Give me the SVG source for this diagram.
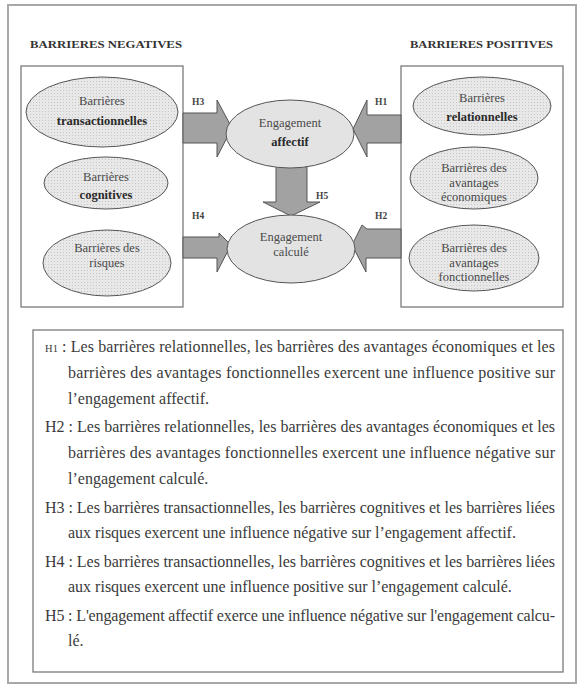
<svg xmlns="http://www.w3.org/2000/svg" width="580" height="686" viewBox="0 0 580 686">
<defs>
<pattern id="dots" width="3" height="3" patternUnits="userSpaceOnUse"><rect width="3" height="3" fill="#e8e8e8"/><rect width="1" height="1" fill="#c6c6c6"/></pattern>
<style>
.frame{fill:#fff;stroke:#a8a8a8;stroke-width:2}
.box{fill:#fff;stroke:#7a7a7a;stroke-width:1.3}
.side{fill:url(#dots);stroke:#555;stroke-width:1}
.mid{fill:#e3e3e3;stroke:#555;stroke-width:1}
.arr{fill:#a2a2a2;stroke:#555;stroke-width:1;stroke-linejoin:miter}
.t{font-family:"Liberation Serif","Times New Roman",serif;font-size:12.5px;fill:#4a4a4a;text-anchor:middle}
.b{font-weight:bold;fill:#2a2a2a}
.h{font-family:"Liberation Serif","Times New Roman",serif;font-size:11px;font-weight:bold;fill:#333}
.lab{font-family:"Liberation Serif","Times New Roman",serif;font-size:9.5px;font-weight:bold;fill:#444}
.p{font-family:"Liberation Serif","Times New Roman",serif;font-size:16px;fill:#3a3a3a}
</style>
</defs>
<rect x="8" y="5" width="568" height="678" class="frame"/>
<text x="30" y="48" class="h" textLength="152" lengthAdjust="spacingAndGlyphs">BARRIERES NEGATIVES</text>
<text x="410" y="48" class="h" textLength="143" lengthAdjust="spacingAndGlyphs">BARRIERES POSITIVES</text>
<rect x="21" y="66" width="162" height="241" class="box"/>
<rect x="401" y="66" width="162" height="241" class="box"/>

<g id="connectors">
<polygon class="arr" points="183,113 217,113 217,100 232,128 217,157 217,143 183,143"/>
<polygon class="arr" points="401,115 367,115 367,100 353,129 367,157 367,143 401,143"/>
<polygon class="arr" points="183,237 219,237 219,233 231,245 217,272 217,258 183,258"/>
<polygon class="arr" points="401,229 367,229 362,225 352,245 366,272 366,258 401,258"/>
<polygon class="arr" points="276,165 307,165 307,202 320,202 291,216 263,202 276,202"/>
<text x="192" y="105" class="lab">H3</text>
<text x="375" y="105" class="lab">H1</text>
<text x="192" y="219" class="lab">H4</text>
<text x="375" y="219" class="lab">H2</text>
<text x="316" y="199" class="lab">H5</text>
</g>

<g id="n-transactionnelles">
<ellipse cx="102" cy="112" rx="76" ry="35" class="side"/>
<text x="102" y="105" class="t">Barrières</text>
<text x="102" y="125" class="t b">transactionnelles</text>
</g>
<g id="n-cognitives">
<ellipse cx="106" cy="183" rx="62" ry="26" class="side"/>
<text x="106" y="181" class="t">Barrières</text>
<text x="106" y="199" class="t b">cognitives</text>
</g>
<g id="n-risques">
<ellipse cx="107" cy="263" rx="64" ry="33" class="side"/>
<text x="107" y="252" class="t">Barrières des</text>
<text x="107" y="267" class="t">risques</text>
</g>
<g id="n-relationnelles">
<ellipse cx="482" cy="106" rx="69" ry="29" class="side"/>
<text x="482" y="102" class="t">Barrières</text>
<text x="482" y="121" class="t b">relationnelles</text>
</g>
<g id="n-economiques">
<ellipse cx="474" cy="178" rx="64" ry="31" class="side"/>
<text x="474" y="172" class="t">Barrières des</text>
<text x="474" y="187" class="t">avantages</text>
<text x="474" y="201" class="t">économiques</text>
</g>
<g id="n-fonctionnelles">
<ellipse cx="474" cy="258" rx="65" ry="33" class="side"/>
<text x="474" y="252" class="t">Barrières des</text>
<text x="474" y="267" class="t">avantages</text>
<text x="474" y="281" class="t">fonctionnelles</text>
</g>
<g id="n-affectif">
<ellipse cx="290" cy="134" rx="64" ry="34" class="mid"/>
<text x="290" y="127" class="t">Engagement</text>
<text x="290" y="146" class="t b">affectif</text>
</g>
<g id="n-calcule">
<ellipse cx="291" cy="249" rx="64" ry="34" class="mid"/>
<text x="291" y="241" class="t">Engagement</text>
<text x="291" y="256" class="t">calculé</text>
</g>

<g id="legend">
<rect x="33" y="330" width="530" height="342" class="box" fill="#fff"/>
<text x="45" y="352" class="p" textLength="510" lengthAdjust="spacing"><tspan font-size="10.5">H1</tspan> : Les barrières relationnelles, les barrières des avantages économiques et les</text>
<text x="68" y="378" class="p" textLength="487" lengthAdjust="spacing">barrières des avantages fonctionnelles exercent une influence positive sur</text>
<text x="68" y="404" class="p">l’engagement affectif.</text>
<text x="45" y="432" class="p" textLength="510" lengthAdjust="spacing">H2 : Les barrières relationnelles, les barrières des avantages économiques et les</text>
<text x="68" y="458" class="p" textLength="487" lengthAdjust="spacing">barrières des avantages fonctionnelles exercent une influence négative sur</text>
<text x="68" y="484" class="p">l’engagement calculé.</text>
<text x="45" y="513" class="p" textLength="510" lengthAdjust="spacing">H3 : Les barrières transactionnelles, les barrières cognitives et les barrières liées</text>
<text x="68" y="538" class="p">aux risques exercent une influence négative sur l’engagement affectif.</text>
<text x="45" y="567" class="p" textLength="510" lengthAdjust="spacing">H4 : Les barrières transactionnelles, les barrières cognitives et les barrières liées</text>
<text x="68" y="592" class="p">aux risques exercent une influence positive sur l’engagement calculé.</text>
<text x="45" y="621" class="p" textLength="510" lengthAdjust="spacing">H5 : L'engagement affectif exerce une influence négative sur l'engagement calcu-</text>
<text x="68" y="646" class="p">lé.</text>
</g>
</svg>
